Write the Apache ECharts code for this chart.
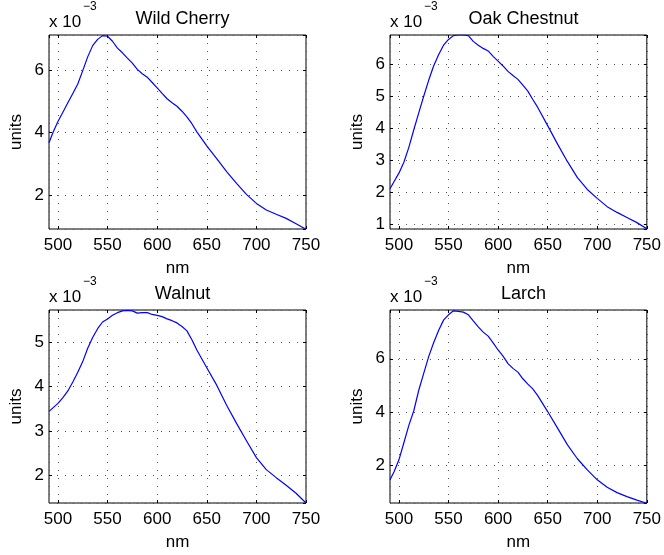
<!DOCTYPE html>
<html>
<head>
<meta charset="utf-8">
<script src="https://cdn.jsdelivr.net/npm/echarts@6/dist/echarts.min.js"></script>
<style>
  html, body { margin: 0; padding: 0; background: #fff; }
  #chart { width: 664px; height: 555px; }
</style>
</head>
<body>
<div id="chart"></div>
<script>
// wavelengths (nm) shared by all four spectra
var wavelengths = [491, 495, 500, 505, 510, 515, 520, 525, 530, 535, 540, 545, 550, 555, 560, 565, 570, 575, 580, 585, 590, 595, 600, 605, 610, 615, 620, 625, 630, 635, 640, 650, 660, 670, 680, 690, 700, 710, 720, 730, 740, 750];

// values in units of 1e-3
var wildCherry = [3.67, 4.0, 4.35, 4.65, 4.95, 5.25, 5.55, 5.98, 6.42, 6.78, 6.98, 7.1, 7.08, 6.92, 6.7, 6.55, 6.38, 6.22, 6.02, 5.88, 5.77, 5.6, 5.43, 5.25, 5.08, 4.95, 4.84, 4.68, 4.5, 4.28, 4.02, 3.57, 3.16, 2.75, 2.37, 2.02, 1.73, 1.52, 1.38, 1.25, 1.08, 0.9];
var oakChestnut = [2.1, 2.32, 2.59, 2.93, 3.4, 3.95, 4.48, 5.0, 5.5, 5.95, 6.3, 6.6, 6.78, 6.9, 6.92, 6.92, 6.9, 6.72, 6.6, 6.5, 6.42, 6.25, 6.1, 5.95, 5.78, 5.65, 5.53, 5.35, 5.16, 4.9, 4.65, 4.08, 3.5, 2.95, 2.45, 2.08, 1.8, 1.54, 1.36, 1.2, 1.04, 0.85];
var walnut = [3.44, 3.52, 3.62, 3.75, 3.9, 4.1, 4.32, 4.56, 4.86, 5.1, 5.3, 5.45, 5.52, 5.6, 5.66, 5.7, 5.71, 5.7, 5.65, 5.66, 5.66, 5.62, 5.6, 5.57, 5.52, 5.48, 5.43, 5.35, 5.25, 5.05, 4.82, 4.42, 4.03, 3.58, 3.17, 2.78, 2.4, 2.13, 1.95, 1.78, 1.6, 1.38];
var larch = [1.46, 1.75, 2.21, 2.85, 3.5, 4.05, 4.82, 5.45, 6.08, 6.6, 7.06, 7.45, 7.65, 7.8, 7.78, 7.75, 7.65, 7.42, 7.2, 7.0, 6.85, 6.6, 6.33, 6.1, 5.82, 5.64, 5.5, 5.25, 5.05, 4.87, 4.62, 4.02, 3.4, 2.77, 2.25, 1.83, 1.46, 1.18, 0.98, 0.83, 0.7, 0.58];

var titles = ['Wild Cherry', 'Oak Chestnut', 'Walnut', 'Larch'];
var spectra = [wildCherry, oakChestnut, walnut, larch];
var yMin = [0.91, 0.84, 1.38, 0.59];
var yMax = [7.12, 6.92, 5.72, 7.83];
var yStep = [2, 1, 1, 2];
var xMin = 491, xMax = 750, xStep = 50;

var FONT = 'Liberation Sans, Arial, Helvetica, sans-serif';
var boxes = [
    { left: 49, top: 35, width: 257, height: 194 },
    { left: 390, top: 35, width: 257, height: 194 },
    { left: 49, top: 310, width: 257, height: 193 },
    { left: 390, top: 310, width: 257, height: 193 }
];

function pairs(xs, ys) {
    return xs.map(function (x, i) { return [x, ys[i]]; });
}

var grid = [], xAxis = [], yAxis = [], series = [], title = [], graphic = [];

boxes.forEach(function (b, i) {
    grid.push({
        left: b.left, top: b.top, width: b.width, height: b.height,
        show: true, borderColor: '#000', borderWidth: 1
    });
    var tick = { inside: true, length: 3, lineStyle: { color: '#000', width: 1 } };
    var dotted = { show: true, lineStyle: { type: [1, 7], color: '#555', width: 1 } };
    // bottom + top x axes
    xAxis.push({
        type: 'value', gridIndex: i, min: xMin, max: xMax,
        minInterval: xStep, maxInterval: xStep,
        axisLine: { show: false }, axisTick: tick,
        axisLabel: { color: '#000', fontSize: 17, fontFamily: FONT, margin: 8, showMinLabel: false },
        splitLine: dotted,
        name: 'nm', nameLocation: 'middle', nameGap: 31,
        nameTextStyle: { color: '#000', fontSize: 17, fontFamily: FONT }
    });
    xAxis.push({
        type: 'value', gridIndex: i, position: 'top', min: xMin, max: xMax,
        minInterval: xStep, maxInterval: xStep,
        axisLine: { show: false }, axisTick: tick,
        axisLabel: { show: false }, splitLine: { show: false }
    });
    // left + right y axes
    yAxis.push({
        type: 'value', gridIndex: i, min: yMin[i], max: yMax[i],
        minInterval: yStep[i], maxInterval: yStep[i],
        axisLine: { show: false }, axisTick: tick,
        axisLabel: { color: '#000', fontSize: 17, fontFamily: FONT, margin: 5,
                     showMinLabel: false, showMaxLabel: false },
        splitLine: dotted,
        name: 'units', nameLocation: 'middle', nameGap: 24, nameRotate: 90,
        nameTextStyle: { color: '#000', fontSize: 17, fontFamily: FONT }
    });
    yAxis.push({
        type: 'value', gridIndex: i, position: 'right', min: yMin[i], max: yMax[i],
        minInterval: yStep[i], maxInterval: yStep[i],
        axisLine: { show: false }, axisTick: tick,
        axisLabel: { show: false }, splitLine: { show: false }
    });
    series.push({
        type: 'line', xAxisIndex: 2 * i, yAxisIndex: 2 * i,
        data: pairs(wavelengths, spectra[i]),
        symbol: 'none', lineStyle: { color: '#0000ff', width: 1.2 }
    });
    title.push({
        text: titles[i], left: b.left + b.width / 2, textAlign: 'center',
        top: b.top - 30,
        textStyle: { color: '#000', fontWeight: 'normal', fontSize: 18, fontFamily: FONT }
    });
    // MATLAB style exponent label
    graphic.push({
        type: 'text', left: b.left, top: b.top - 21,
        style: { text: 'x 10', fill: '#000', fontSize: 17, fontFamily: FONT }
    });
    graphic.push({
        type: 'text', left: b.left + 34, top: b.top - 34,
        style: { text: '\u22123', fill: '#000', fontSize: 12, fontFamily: FONT }
    });
});

var chart = echarts.init(document.getElementById('chart'));
chart.setOption({
    animation: false,
    backgroundColor: '#fff',
    title: title,
    grid: grid,
    xAxis: xAxis,
    yAxis: yAxis,
    series: series,
    graphic: graphic
});
</script>
</body>
</html>
